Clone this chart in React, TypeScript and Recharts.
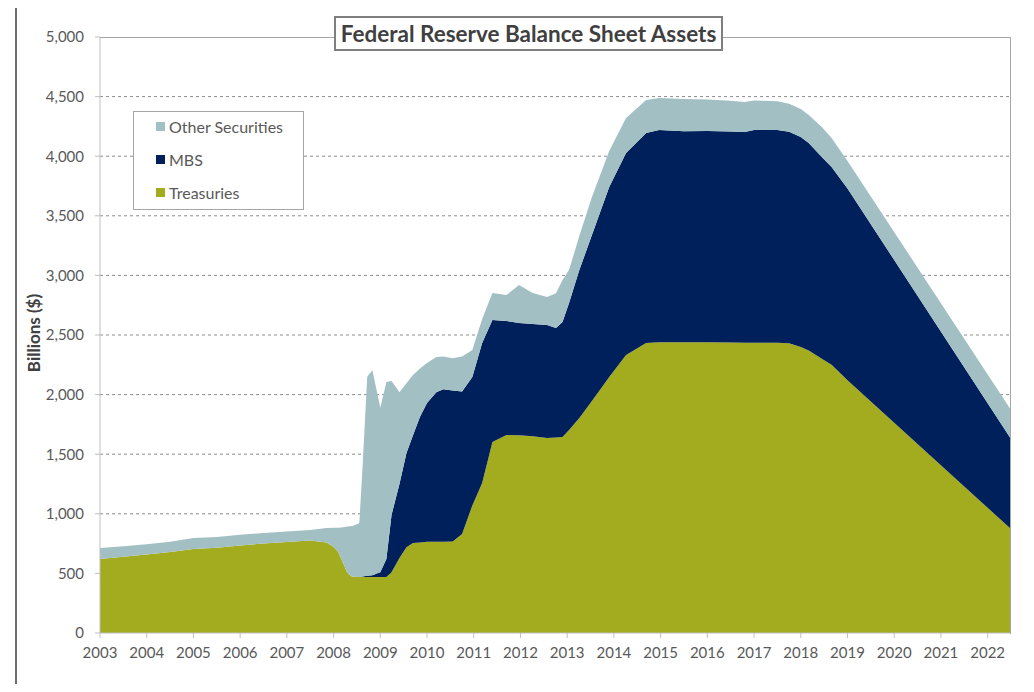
import { AreaChart, Area, XAxis, YAxis, CartesianGrid } from "recharts";

// sample dates (fractional years) and stacked values, billions of dollars
const years = [
  2003.0, 2003.5, 2004.0, 2004.5, 2005.0, 2005.5, 2006.0, 2006.5, 2007.0, 2007.5,
  2007.85, 2008.0, 2008.1, 2008.2, 2008.3, 2008.4, 2008.55, 2008.62, 2008.72, 2008.83,
  2009.0, 2009.13, 2009.24, 2009.41, 2009.56, 2009.7, 2009.85, 2010.0, 2010.2, 2010.35,
  2010.55, 2010.75, 2010.97, 2011.18, 2011.4, 2011.7, 2011.97, 2012.26, 2012.57, 2012.76,
  2012.9, 2013.04, 2013.26, 2013.53, 2013.9, 2014.26, 2014.69, 2014.97, 2015.5, 2016.0,
  2016.5, 2016.8, 2017.0, 2017.5, 2017.75, 2018.0, 2018.17, 2018.45, 2018.66, 2019.0,
  2022.5,
];

const treasuries = [
  620, 640, 658, 680, 705, 715, 735, 750, 763, 775,
  760, 722, 680, 590, 500, 472, 470, 470, 470, 470,
  470, 470, 510, 630, 720, 755, 760, 765, 765, 765,
  768, 830, 1070, 1258, 1602, 1661, 1660, 1650, 1636, 1640,
  1644, 1703, 1804, 1946, 2148, 2332, 2433, 2440, 2440, 2440,
  2438, 2436, 2435, 2435, 2430, 2400, 2370, 2300, 2250, 2120,
  872,
];

const mbs = [
  0, 0, 0, 0, 0, 0, 0, 0, 0, 0,
  0, 0, 0, 0, 0, 0, 0, 5, 10, 15,
  40, 150, 480, 620, 790, 905, 1055, 1165, 1255, 1280,
  1267, 1195, 1078, 1175, 1024, 956, 940, 942, 948, 919,
  965, 1065, 1241, 1393, 1594, 1695, 1762, 1780, 1770, 1772,
  1770, 1767, 1785, 1785, 1775, 1761, 1741, 1693, 1659, 1610,
  755,
];

const other = [
  93, 88, 87, 85, 92, 90, 90, 88, 89, 90,
  120, 160, 204, 298, 393, 426, 450, 915, 1670, 1720,
  1380, 1485, 1125, 770, 585, 505, 405, 335, 295, 275,
  270, 295, 226, 201, 226, 218, 319, 260, 235, 291,
  352, 277, 285, 319, 302, 293, 276, 268, 270, 263,
  257, 252, 248, 240, 235, 235, 235, 252, 244, 230,
  244,
];

const yearTicks = [
  2003, 2004, 2005, 2006, 2007, 2008, 2009, 2010, 2011, 2012,
  2013, 2014, 2015, 2016, 2017, 2018, 2019, 2020, 2021, 2022,
];
const valueTicks = [0, 500, 1000, 1500, 2000, 2500, 3000, 3500, 4000, 4500, 5000];

const series = [
  { key: "other", name: "Other Securities", color: "#A2BFC3" },
  { key: "mbs", name: "MBS", color: "#00205B" },
  { key: "treasuries", name: "Treasuries", color: "#A2AC1E" },
];

const data = years.map((year, i) => ({
  year,
  treasuries: treasuries[i],
  mbs: mbs[i],
  other: other[i],
}));

const font = "Lato, 'Open Sans', sans-serif";
const axisGray = "#BFBFBF";
const tickStyle = { fill: "#595959", fontSize: 15, fontFamily: font };

export default function App() {
  return (
    <div
      style={{
        position: "relative",
        width: 1034,
        height: 692,
        margin: -8,
        overflow: "hidden",
        background: "#fff",
        fontFamily: font,
      }}
    >
      <div
        style={{
          position: "absolute",
          left: 15,
          top: 5,
          width: 1040,
          height: 720,
          border: "2px solid #6e6e6e",
        }}
      />
      <div style={{ position: "absolute", left: 0, top: 0 }}>
        <AreaChart
          width={1034}
          height={692}
          data={data}
          margin={{ top: 37, right: 23, bottom: 29, left: 40 }}
        >
          <CartesianGrid
            vertical={false}
            stroke="#8C8C8C"
            strokeDasharray="3 3"
            horizontalValues={valueTicks.slice(1, -1)}
          />
          <XAxis
            dataKey="year"
            type="number"
            domain={[2003, 2022.5]}
            ticks={yearTicks}
            allowDataOverflow
            interval={0}
            height={30}
            tickSize={5}
            tickMargin={9}
            stroke={axisGray}
            tick={tickStyle}
          />
          <YAxis
            type="number"
            domain={[0, 5000]}
            ticks={valueTicks}
            interval={0}
            width={60}
            tickSize={5}
            tickMargin={11}
            stroke={axisGray}
            tick={tickStyle}
            tickFormatter={(v: number) => v.toLocaleString("en-US")}
          />
          {[...series].reverse().map((s) => (
            <Area
              key={s.key}
              dataKey={s.key}
              name={s.name}
              stackId="assets"
              type="linear"
              stroke="none"
              fill={s.color}
              fillOpacity={1}
              isAnimationActive={false}
            />
          ))}
        </AreaChart>
      </div>
      {/* plot frame */}
      <div
        style={{
          position: "absolute",
          left: 100,
          top: 37,
          width: 910,
          height: 596,
          borderTop: "1.5px solid #A6A6A6",
          borderRight: "1.5px solid #A6A6A6",
          pointerEvents: "none",
        }}
      />
      <div
        style={{
          position: "absolute",
          left: 334,
          top: 16,
          width: 385,
          height: 31,
          border: "2px solid #7F7F7F",
          background: "#fff",
          color: "#404040",
          fontWeight: 700,
          fontSize: 22.5,
          lineHeight: "31px",
          textAlign: "center",
          whiteSpace: "nowrap",
        }}
      >
        Federal Reserve Balance Sheet Assets
      </div>
      <div
        style={{
          position: "absolute",
          left: 33,
          top: 333,
          transform: "translate(-50%, -50%) rotate(-90deg)",
          whiteSpace: "nowrap",
          color: "#404040",
          fontWeight: 700,
          fontSize: 17,
        }}
      >
        Billions ($)
      </div>
      <div
        style={{
          position: "absolute",
          left: 133,
          top: 111,
          width: 169,
          height: 97,
          border: "1px solid #A6A6A6",
          background: "#fff",
        }}
      >
        {series.map((s, i) => (
          <div
            key={s.key}
            style={{
              position: "absolute",
              left: 22,
              top: 3 + i * 33,
              height: 22,
              display: "flex",
              alignItems: "center",
              gap: 4,
              color: "#595959",
              fontSize: 16,
              whiteSpace: "nowrap",
            }}
          >
            <span style={{ width: 9, height: 9, background: s.color, display: "inline-block" }} />
            {s.name}
          </div>
        ))}
      </div>
    </div>
  );
}
